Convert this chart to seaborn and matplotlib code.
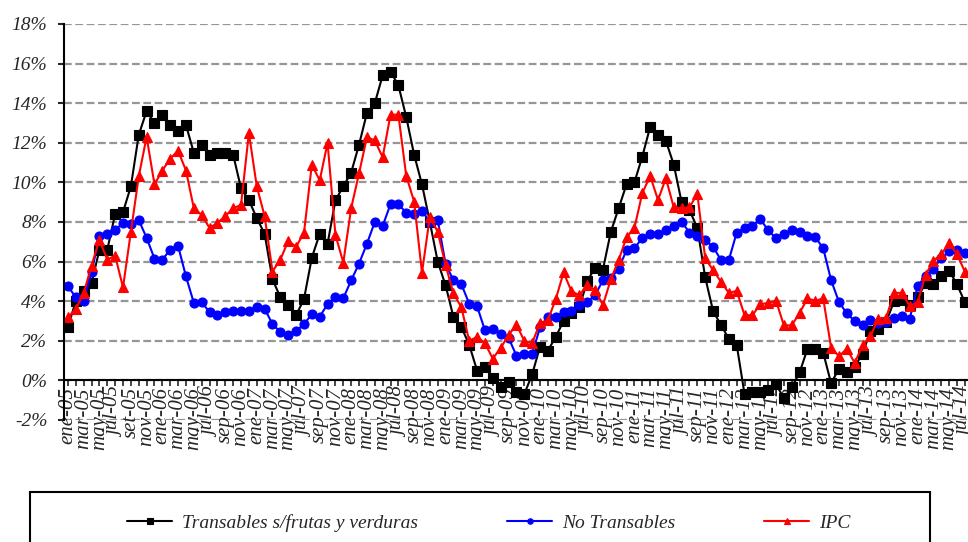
import matplotlib
matplotlib.use("Agg")
import matplotlib.pyplot as plt
from matplotlib.patches import Rectangle
from matplotlib.ticker import FuncFormatter
import numpy as np
import pandas as pd
import seaborn as sns

# monthly series, ene-05 .. jul-14 (% y/y)
transables = [2.7, 4.0, 4.5, 4.9, 6.6, 6.6, 8.4, 8.5, 9.8, 12.4, 13.6, 13.0,
              13.4, 12.9, 12.6, 12.9, 11.5, 11.9, 11.4, 11.5, 11.5, 11.4, 9.7, 9.1,
              8.2, 7.4, 5.1, 4.2, 3.8, 3.3, 4.1, 6.2, 7.4, 6.9, 9.1, 9.8,
              10.5, 11.9, 13.5, 14.0, 15.4, 15.6, 14.9, 13.3, 11.4, 9.9, 8.0, 6.0,
              4.8, 3.2, 2.7, 1.8, 0.5, 0.7, 0.1, -0.35, -0.1, -0.6, -0.7, 0.3,
              1.7, 1.5, 2.2, 3.0, 3.4, 3.7, 5.0, 5.7, 5.6, 7.5, 8.7, 9.9,
              10.0, 11.3, 12.8, 12.4, 12.1, 10.9, 9.0, 8.6, 7.7, 5.2, 3.5, 2.8,
              2.1, 1.8, -0.7, -0.6, -0.6, -0.5, -0.2, -0.9, -0.35, 0.4, 1.6, 1.6,
              1.4, -0.15, 0.6, 0.4, 0.7, 1.35, 2.5, 2.6, 2.95, 4.0, 4.05, 3.8,
              4.2, 4.9, 4.85, 5.25, 5.55, 4.85, 3.95]
no_transables = [4.75, 4.2, 4.0, 5.45, 7.3, 7.4, 7.6, 7.95, 7.9, 8.1, 7.2, 6.15,
                 6.1, 6.6, 6.8, 5.25, 3.92, 3.95, 3.45, 3.3, 3.45, 3.52, 3.52, 3.52,
                 3.72, 3.62, 2.84, 2.45, 2.28, 2.5, 2.84, 3.34, 3.22, 3.85, 4.22, 4.15,
                 5.05, 5.9, 6.9, 8.0, 7.8, 8.9, 8.9, 8.47, 8.4, 8.57, 8.0, 8.1,
                 5.88, 5.06, 4.86, 3.88, 3.75, 2.53, 2.62, 2.33, 2.16, 1.25, 1.32, 1.32,
                 2.68, 3.21, 3.22, 3.44, 3.5, 3.8, 3.96, 4.3, 5.06, 5.15, 5.65, 6.58,
                 6.67, 7.2, 7.39, 7.39, 7.59, 7.8, 8.02, 7.46, 7.29, 7.09, 6.75, 6.08,
                 6.08, 7.46, 7.68, 7.8, 8.14, 7.59, 7.17, 7.39, 7.59, 7.51, 7.29, 7.23,
                 6.67, 5.06, 3.96, 3.38, 3.0, 2.78, 3.04, 2.9, 2.95, 3.17, 3.24, 3.12,
                 4.76, 5.27, 5.65, 6.16, 6.54, 6.61, 6.41]
ipc = [3.2, 3.6, 4.4, 5.8, 7.1, 6.1, 6.3, 4.7, 7.5, 10.3, 12.3, 9.9,
       10.6, 11.2, 11.6, 10.6, 8.7, 8.35, 7.7, 7.95, 8.3, 8.7, 8.86, 12.5,
       9.8, 8.3, 5.5, 6.1, 7.05, 6.75, 7.45, 10.9, 10.1, 12.0, 7.35, 5.95,
       8.7, 10.46, 12.28, 12.12, 11.27, 13.42, 13.42, 10.33, 9.03, 5.44, 8.27, 7.5,
       5.82, 4.39, 3.7, 2.0, 2.2, 1.88, 1.1, 1.64, 2.28, 2.82, 2.0, 1.88,
       2.9, 3.04, 4.1, 5.45, 4.5, 4.3, 4.81, 4.58, 3.8, 5.1, 6.08, 7.23,
       7.7, 9.45, 10.33, 9.11, 10.21, 8.74, 8.69, 8.74, 9.42, 6.16, 5.57, 4.98,
       4.42, 4.52, 3.29, 3.29, 3.85, 3.91, 4.02, 2.78, 2.78, 3.41, 4.14, 4.02,
       4.14, 1.65, 1.22, 1.6, 0.88, 1.77, 2.23, 3.12, 3.17, 4.42, 4.42, 3.75,
       3.96, 5.32, 6.04, 6.38, 6.92, 6.38, 5.49]

meses = ["ene", "feb", "mar", "abr", "may", "jun", "jul", "ago", "sep", "oct", "nov", "dic"]
years = ["05", "06", "07", "08", "09", "10", "11", "12", "13", "14"]
fechas = [m + "-" + y for y in years for m in meses][:len(ipc)]
fechas[8] = "set-05"

series_names = ["Transables s/frutas y verduras", "No Transables", "IPC"]
colors = ["#000000", "#0000FF", "#FF0000"]
markers = ["s", "o", "^"]
msizes = [6.5, 6.5, 7.0]

sns.set_style("white")
plt.rcParams['font.family'] = ['Liberation Serif', 'DejaVu Serif']
plt.rcParams['font.style'] = 'italic'

fig = plt.figure(figsize=(9.68, 5.42), dpi=100)
ax = fig.add_axes([64/968, 1 - 420/542, 1 - 64/968, (420 - 24)/542])

x = np.arange(len(ipc))
df = pd.DataFrame({"x": x, series_names[0]: transables,
                   series_names[1]: no_transables, series_names[2]: ipc})

for name, c, m, ms in zip(series_names, colors, markers, msizes):
    sns.lineplot(data=df, x="x", y=name, ax=ax, color=c, marker=m, markersize=ms,
                 markeredgecolor=c, markeredgewidth=0.8, linewidth=1.5, label=name)

ax.set_ylim(-2, 18)
ax.set_xlim(-0.5, 114.4)
ax.set_yticks(range(-2, 19, 2))
ax.yaxis.set_major_formatter(FuncFormatter(lambda v, p: f"{v:.0f}%"))
ax.set_xticks(x)
ax.set_xticklabels([f if i % 2 == 0 else "" for i, f in enumerate(fechas)])
ax.tick_params(axis="y", labelsize=14, direction="out", length=4, width=1.5, pad=8, left=True)
ax.tick_params(axis="x", labelsize=15, direction="out", length=4, width=1.2, pad=1,
               bottom=True, labelrotation=90)
ax.set_xlabel("")
ax.set_ylabel("")

ax.grid(False)
for v in range(-2, 19, 2):
    ax.axhline(v, color="#969696", linewidth=1.6, linestyle=(0, (3.5, 1.6)), zorder=0)

for s in ["top", "right"]:
    ax.spines[s].set_visible(False)
ax.spines["left"].set_linewidth(1.5)
ax.spines["left"].set_color("black")
ax.spines["bottom"].set_position(("data", 0))
ax.spines["bottom"].set_linewidth(1.5)
ax.spines["bottom"].set_color("black")

ax.legend(loc="center", bbox_to_anchor=(0.505, 1 - 523/542), bbox_transform=fig.transFigure,
          ncol=3, frameon=False, columnspacing=4.6, handlelength=2.3, handletextpad=0.5,
          fontsize=14, markerscale=0.6)
fig.add_artist(Rectangle((30/968, -0.1), 900/968, 0.1 + (1 - 492/542),
                         transform=fig.transFigure, fill=False, edgecolor="black",
                         linewidth=1.5))

fig.savefig("out.png", dpi=100)
